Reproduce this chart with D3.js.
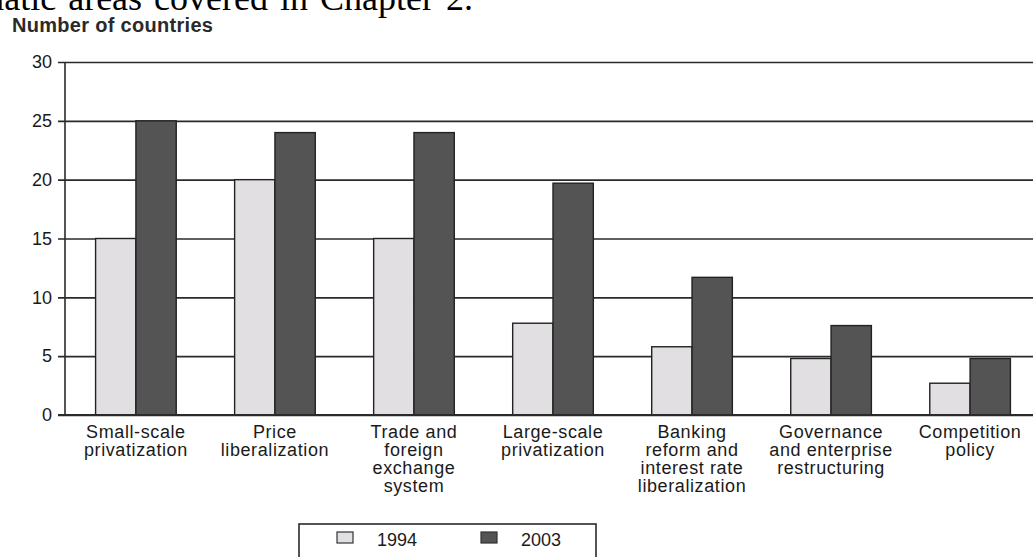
<!DOCTYPE html>
<html>
<head>
<meta charset="utf-8">
<script src="https://cdn.jsdelivr.net/npm/d3@7"></script>
<style>
  html, body { margin: 0; padding: 0; background: #fff; overflow: hidden; }
  svg { display: block; }
</style>
</head>
<body>
<svg id="chart" width="1033" height="557"></svg>
<script>
// ---- data ----
const categories = [
  ["Small-scale", "privatization"],
  ["Price", "liberalization"],
  ["Trade and", "foreign", "exchange", "system"],
  ["Large-scale", "privatization"],
  ["Banking", "reform and", "interest rate", "liberalization"],
  ["Governance", "and enterprise", "restructuring"],
  ["Competition", "policy"]
];
const seriesNames = ["1994", "2003"];
const values1994 = [15, 20, 15, 7.8, 5.8, 4.8, 2.7];
const values2003 = [25, 24, 24, 19.7, 11.7, 7.6, 4.8];
const yTicks = [0, 5, 10, 15, 20, 25, 30];
const yTitle = "Number of countries";
const pageText = "thematic areas covered in Chapter 2.";

(function () {
// ---- layout ----
const svg = d3.select("#chart");
const W = 1033;
const plotLeft = 65, plotRight = 1041, plotTop = 62, plotBottom = 415;
const colors = {"1994": "#e2dfe3", "2003": "#545454"};
const textColor = "#1a1a1a";
const sans = "'Liberation Sans', Arial, sans-serif";

const catIdx = categories.map((c, i) => i);
const x = d3.scaleBand().domain(catIdx).range([plotLeft, plotRight])
  .paddingInner(0.42).paddingOuter(0.22);
const xs = d3.scaleBand().domain(seriesNames).range([0, x.bandwidth()]).padding(0);
const y = d3.scaleLinear().domain([0, 30]).range([plotBottom, plotTop]);

// page text cut at top
svg.append("text")
  .attr("x", 473).attr("y", 10)
  .attr("text-anchor", "end")
  .attr("font-family", "'Liberation Serif', 'Times New Roman', serif")
  .attr("font-size", 36)
  .attr("word-spacing", 3)
  .attr("fill", "#000")
  .text(pageText);

// y title
svg.append("text")
  .attr("x", 12).attr("y", 32)
  .attr("font-family", sans)
  .attr("font-weight", "bold")
  .attr("font-size", 20)
  .attr("letter-spacing", 0.3)
  .attr("fill", "#2a2a2a")
  .text(yTitle);

// gridlines + ticks via axis
const yAxis = d3.axisLeft(y).tickValues(yTicks).tickSize(0).tickPadding(12);
const gy = svg.append("g").attr("transform", `translate(${plotLeft - 7},0)`).call(yAxis);
gy.select(".domain").remove();
gy.selectAll(".tick line")
  .attr("x1", 0).attr("x2", W - plotLeft + 7)
  .attr("stroke", "#2a2a2a").attr("stroke-width", 1.6);
gy.selectAll(".tick text")
  .attr("x", -6)
  .attr("font-family", sans)
  .attr("font-size", 18)
  .attr("fill", textColor);

// y axis line
svg.append("line")
  .attr("x1", plotLeft).attr("x2", plotLeft)
  .attr("y1", y(30)).attr("y2", y(0))
  .attr("stroke", "#2a2a2a").attr("stroke-width", 1.6);

// bars
const rows = catIdx.map(i => ({i, vals: [
  {key: "1994", v: values1994[i]},
  {key: "2003", v: values2003[i]}
]}));
const g = svg.append("g").selectAll("g").data(rows).join("g")
  .attr("transform", d => `translate(${x(d.i)},0)`);
g.selectAll("rect").data(d => d.vals).join("rect")
  .attr("x", d => xs(d.key))
  .attr("y", d => y(d.v))
  .attr("width", xs.bandwidth())
  .attr("height", d => y(0) - y(d.v))
  .attr("fill", d => colors[d.key])
  .attr("stroke", "#222")
  .attr("stroke-width", 1.4);

// baseline over bars
svg.append("line")
  .attr("x1", plotLeft - 7).attr("x2", W)
  .attr("y1", y(0)).attr("y2", y(0))
  .attr("stroke", "#2a2a2a").attr("stroke-width", 1.8);

// category labels
const labels = svg.append("g").selectAll("text").data(rows).join("text")
  .attr("x", d => x(d.i) + x.bandwidth() / 2)
  .attr("y", 438)
  .attr("text-anchor", "middle")
  .attr("font-family", sans)
  .attr("font-size", 18)
  .attr("letter-spacing", 0.6)
  .attr("fill", textColor);
labels.selectAll("tspan").data(d => categories[d.i]).join("tspan")
  .attr("x", function() { return d3.select(this.parentNode).attr("x"); })
  .attr("dy", (d, j) => j === 0 ? 0 : 18)
  .text(d => d);

// legend
const lg = svg.append("g");
lg.append("rect")
  .attr("x", 299).attr("y", 524).attr("width", 297).attr("height", 50)
  .attr("fill", "none").attr("stroke", "#2a2a2a").attr("stroke-width", 1.6);
const legendItems = [
  {key: "1994", sx: 337, tx: 377},
  {key: "2003", sx: 481, tx: 521}
];
legendItems.forEach(it => {
  lg.append("rect")
    .attr("x", it.sx).attr("y", 532).attr("width", 16).attr("height", 11)
    .attr("fill", colors[it.key]).attr("stroke", "#333").attr("stroke-width", 1.2);
  lg.append("text")
    .attr("x", it.tx).attr("y", 546)
    .attr("font-family", sans).attr("font-size", 18)
    .attr("fill", textColor)
    .text(it.key);
});
})();
</script>
</body>
</html>
